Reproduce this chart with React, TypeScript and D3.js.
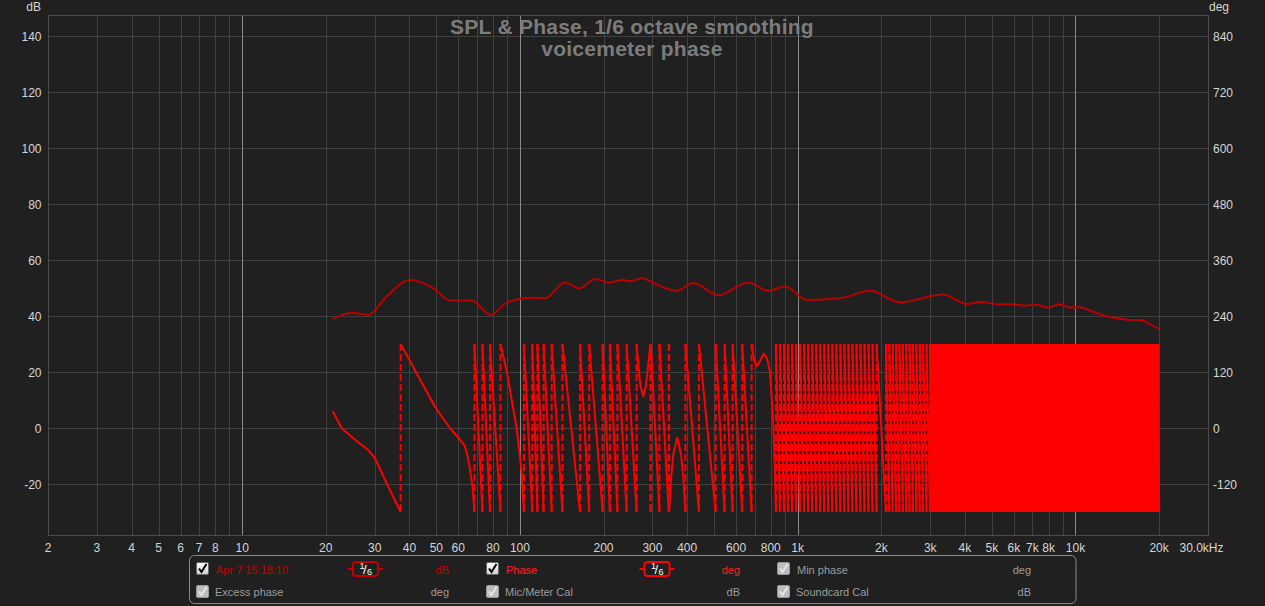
import React from "react";
import * as d3 from "d3";

const W = 1265;
const H = 606;

// ---- axes / ticks ----
const xTicks = [2, 3, 4, 5, 6, 7, 8, 10, 20, 30, 40, 50, 60, 80, 100, 200, 300, 400, 600, 800, 1000, 2000, 3000, 4000, 5000, 6000, 7000, 8000, 10000, 20000];
const xTickLabels = ["2", "3", "4", "5", "6", "7", "8", "10", "20", "30", "40", "50", "60", "80", "100", "200", "300", "400", "600", "800", "1k", "2k", "3k", "4k", "5k", "6k", "7k", "8k", "10k", "20k"];
const decades = [10, 100, 1000, 10000];
const dbTicks = [140, 120, 100, 80, 60, 40, 20, 0, -20];
const degTicks = [840, 720, 600, 480, 360, 240, 120, 0, -120];

// ---- SPL trace (dB) ----
const splFreq = [21.2, 24.8, 28.4, 33.1, 40.2, 48.8, 56.0, 67.0, 78.5, 90.8, 111.7, 123.1, 145.3, 163.5, 186.2, 210.9, 232.4, 252.4, 274.2, 310.2, 366.6, 420.7, 517.6, 663.8, 783.4, 899.8, 1077, 1419, 1820, 2334, 3341, 4055, 4593, 5201, 5968, 6576, 7245, 7977, 8738, 9549, 10229, 11584, 12763, 14061, 15276, 17301, 18273, 20000];
const splDb = [38.9, 41.2, 40.4, 46.9, 52.9, 49.9, 45.5, 45.5, 40.4, 45.1, 46.5, 46.3, 52, 49.9, 53.2, 51.9, 52.9, 52.5, 53.5, 51.3, 49, 51.8, 47.4, 52, 49, 50.5, 45.7, 46.3, 49, 44.9, 47.7, 44.3, 45, 44.2, 44.2, 43.7, 44, 43, 44.2, 43, 43.2, 41.5, 40, 39.3, 38.7, 38.5, 37.4, 35.4];

// ---- Phase trace (unwrapped degrees, displayed wrapped to +-180) ----
const phaseFreq = [21.2, 22.8, 25.1, 28.4, 30.1, 33.1, 37.2, 42.5, 49.4, 51.5, 56.0, 60.8, 63.4, 64.5, 65.7, 67.4, 68.6, 73.3, 78.0, 85.1, 89.6, 97.3, 101.4, 103.4, 110.8, 115.6, 121.7, 130.1, 142.3, 164.5, 177.6, 198.5, 210.8, 224.4, 242.2, 263.1, 267.1, 271.6, 277.9, 284.2, 289.0, 295.5, 317.9, 343.9, 349.7, 357.0, 368.4, 379.9, 387.9, 394.3, 441.0, 506.5, 545.7, 583.1, 631.4, 682.6, 695.7, 711.5, 731.2, 755.8, 774.9, 794.4, 816.4, 828.0, 834.9, 1923.6, 2077.8, 2992, 5345, 20000];
const phaseDeg = [36, 0, -22, -47, -65, -118, -180, -243, -314, -330, -360, -385, -399, -416, -439, -482, -540, -900, -1260, -1620, -1678, -1800, -1893, -1980, -2340, -2700, -3060, -3420, -3780, -4140, -4500, -4860, -5220, -5580, -5940, -6300, -6350, -6390, -6412, -6390, -6350, -6295, -6660, -7025, -6950, -6895, -6861, -6895, -6950, -7020, -7380, -7740, -8100, -8460, -8820, -9180, -9213, -9228, -9217, -9201, -9210, -9239, -9346, -9453, -9540, -18540, -18900, -23580, -36180, -93060];

// ---- legend ----
const legendRow1 = ["Apr 7 15:18:10", "Phase", "Min phase"];
const legendRow1Units = ["dB", "deg", "deg"];
const legendRow2 = ["Excess phase", "Mic/Meter Cal", "Soundcard Cal"];
const legendRow2Units = ["deg", "dB", "dB"];

const titleLines = ["SPL & Phase, 1/6 octave smoothing", "voicemeter phase"];

const FONT = "'Liberation Sans', Arial, sans-serif";
const BG = "#202020";
const GRID = "#404040";
const DECADE = "#8a8a8a";
const TXT = "#d6d6d6";
const SPL_COLOR = "#b80000";
const PHASE_COLOR = "#ff0000";
const DARK_RED_TXT = "#c40000";
const GRAY_TXT = "#9c9c9c";

const left = 48, right = 1208, top = 15, bottom = 535;

const x = d3.scaleLog().domain([2, 30000]).range([left, right]);
const yDb = d3.scaleLinear().domain([-38.214, 147.5]).range([bottom, top]);
const yDeg = d3.scaleLinear().domain([-38.214 * 6, 147.5 * 6]).range([bottom, top]);

function buildPhase() {
  const pts = phaseFreq.map((f, i) => [x(f), phaseDeg[i]] as [number, number]);
  const branch = (p: number) => Math.floor((p + 180) / 360);
  let k = branch(pts[0][1]);
  let solid = `M${pts[0][0]},${yDeg(pts[0][1] - 360 * k)}`;
  let dashed = "";
  const yT = yDeg(180), yB = yDeg(-180);
  for (let i = 1; i < pts.length; i++) {
    const [x0, p0] = pts[i - 1];
    const [x1, p1] = pts[i];
    const at = (b: number) => x0 + ((b - p0) / (p1 - p0)) * (x1 - x0);
    if (p1 < p0) {
      while (-180 + 360 * k > p1) {
        const b = -180 + 360 * k;
        const xb = at(b);
        solid += `L${xb},${yB}`;
        dashed += `M${xb},${yT}L${xb},${yB}`;
        k--;
        solid += `M${xb},${yT}`;
      }
    } else if (p1 > p0) {
      while (180 + 360 * k <= p1) {
        const b = 180 + 360 * k;
        const xb = at(b);
        solid += `L${xb},${yT}`;
        dashed += `M${xb},${yT}L${xb},${yB}`;
        k++;
        solid += `M${xb},${yB}`;
      }
    }
    solid += `L${x1},${yDeg(p1 - 360 * k)}`;
  }
  return { solid, dashed };
}

function Checkbox({ cx, cy, enabled }: { cx: number; cy: number; enabled: boolean }) {
  return (
    <g>
      <rect x={cx + 0.5} y={cy + 0.5} width={12} height={12} rx={1.5}
        fill={enabled ? "url(#cbOn)" : "#bdbdbd"} stroke={enabled ? "#6a6a6a" : "#9a9a9a"} />
      <path d={`M${cx + 3},${cy + 6.5} L${cx + 5.5},${cy + 10} L${cx + 10.5},${cy + 2}`}
        fill="none" stroke={enabled ? "#000" : "#e6e6e6"} strokeWidth={2} />
    </g>
  );
}

function Pill({ cx, cy, color }: { cx: number; cy: number; color: string }) {
  return (
    <g>
      <line x1={cx - 17.5} x2={cx - 12.5} y1={cy} y2={cy} stroke={color} strokeWidth={2} />
      <line x1={cx + 12.5} x2={cx + 17.5} y1={cy} y2={cy} stroke={color} strokeWidth={2} />
      <rect x={cx - 12.5} y={cy - 7} width={25} height={14} rx={3} fill={BG} stroke={color} strokeWidth={2} />
      <text x={cx - 6} y={cy - 0.5} fontSize={9} fill="#fff" fontFamily={FONT}>1</text>
      <text x={cx - 2.5} y={cy + 5} fontSize={13} fill="#fff" fontFamily={FONT}>/</text>
      <text x={cx + 1.5} y={cy + 5.5} fontSize={9} fill="#fff" fontFamily={FONT}>6</text>
    </g>
  );
}

export default function App() {
  const { solid, dashed } = buildPhase();
  const splLine = d3.line<number>()
    .x((_, i) => x(splFreq[i]))
    .y((d) => yDb(d))
    .curve(d3.curveMonotoneX)(splDb) || "";

  const minorFreqs: number[] = [];
  for (let dec = 1; dec <= 10000; dec *= 10) {
    for (let m = 1; m <= 9; m++) {
      const f = m * dec;
      if (f > 2 && f < 30000 && !decades.includes(f)) minorFreqs.push(f);
    }
  }

  const colLeft = [196, 486, 777];
  const unitRight = [449, 740, 1031];
  const pillCx = [365.5, 657];
  const row1y = 562, row2y = 585;

  return (
    <svg width={W} height={H} style={{ position: "fixed", left: 0, top: 0, background: BG }}
      fontFamily={FONT}>
      <defs>
        <linearGradient id="cbOn" x1="0" y1="0" x2="0" y2="1">
          <stop offset="0" stopColor="#ffffff" />
          <stop offset="1" stopColor="#cfcfcf" />
        </linearGradient>
        <clipPath id="plotClip">
          <rect x={left} y={top} width={right - left} height={bottom - top} />
        </clipPath>
      </defs>
      <rect width={W} height={H} fill={BG} />

      {/* grid */}
      <g shapeRendering="crispEdges">
        {dbTicks.map((d) => (
          <line key={"h" + d} x1={left} x2={right} y1={Math.round(yDb(d)) + 0.5} y2={Math.round(yDb(d)) + 0.5} stroke={GRID} />
        ))}
        {minorFreqs.map((f) => (
          <line key={"v" + f} x1={Math.round(x(f)) + 0.5} x2={Math.round(x(f)) + 0.5} y1={top} y2={bottom} stroke={GRID} />
        ))}
        {decades.map((f) => (
          <line key={"d" + f} x1={Math.round(x(f)) + 0.5} x2={Math.round(x(f)) + 0.5} y1={top} y2={bottom} stroke={DECADE} />
        ))}
        <rect x={left + 0.5} y={top + 0.5} width={right - left} height={bottom - top} fill="none" stroke="#4a4a4a" />
      </g>

      {/* title */}
      {titleLines.map((t, i) => (
        <text key={t} x={632} y={33.5 + i * 22.7} textAnchor="middle" fontSize={21} letterSpacing={0.25}
          fontWeight="bold" fill="#7c7c7c">{t}</text>
      ))}

      {/* traces */}
      <g clipPath="url(#plotClip)">
        <path d={splLine} fill="none" stroke={SPL_COLOR} strokeWidth={2} />
        <path d={dashed} fill="none" stroke={PHASE_COLOR} strokeWidth={2} strokeDasharray="7,3" />
        <path d={solid} fill="none" stroke={PHASE_COLOR} strokeWidth={2} strokeLinejoin="round" />
      </g>

      {/* left axis */}
      <text x={41} y={10.5} textAnchor="end" fontSize={12} fill={TXT}>dB</text>
      {dbTicks.map((d) => (
        <text key={"l" + d} x={41.5} y={yDb(d) + 4.5} textAnchor="end" fontSize={12} fill={TXT}>{d}</text>
      ))}
      {/* right axis */}
      <text x={1209} y={10.5} fontSize={12} fill={TXT}>deg</text>
      {degTicks.map((d) => (
        <text key={"r" + d} x={1213} y={yDeg(d) + 4.5} fontSize={12} fill={TXT}>{d}</text>
      ))}
      {/* bottom axis */}
      {xTicks.map((f, i) => (
        <text key={"b" + f} x={x(f)} y={552} textAnchor="middle" fontSize={12} fill={TXT}>{xTickLabels[i]}</text>
      ))}
      <text x={x(30000) - 6.5} y={552} textAnchor="middle" fontSize={12} fill={TXT}>30.0kHz</text>

      {/* legend */}
      <rect x={189.5} y={555.5} width={886.5} height={48} rx={5} fill={BG} stroke="#8a8a8a" />
      {legendRow1.map((t, i) => {
        const enabled = i < 2;
        const col = i === 0 ? DARK_RED_TXT : i === 1 ? "#ff2020" : GRAY_TXT;
        return (
          <g key={"r1" + t}>
            <Checkbox cx={colLeft[i]} cy={row1y} enabled={enabled} />
            <text x={colLeft[i] + 20} y={row1y + 11.5} fontSize={11} fill={col}>{t}</text>
            {enabled && <Pill cx={pillCx[i]} cy={row1y + 7} color={i === 0 ? "#c00000" : "#ff0000"} />}
            <text x={unitRight[i]} y={row1y + 11.5} fontSize={11} textAnchor="end" fill={col}>{legendRow1Units[i]}</text>
          </g>
        );
      })}
      {legendRow2.map((t, i) => (
        <g key={"r2" + t}>
          <Checkbox cx={colLeft[i]} cy={row2y} enabled={false} />
          <text x={colLeft[i] + 19} y={row2y + 11} fontSize={11} fill={GRAY_TXT}>{t}</text>
          <text x={unitRight[i]} y={row2y + 11} fontSize={11} textAnchor="end" fill={GRAY_TXT}>{legendRow2Units[i]}</text>
        </g>
      ))}
    </svg>
  );
}
